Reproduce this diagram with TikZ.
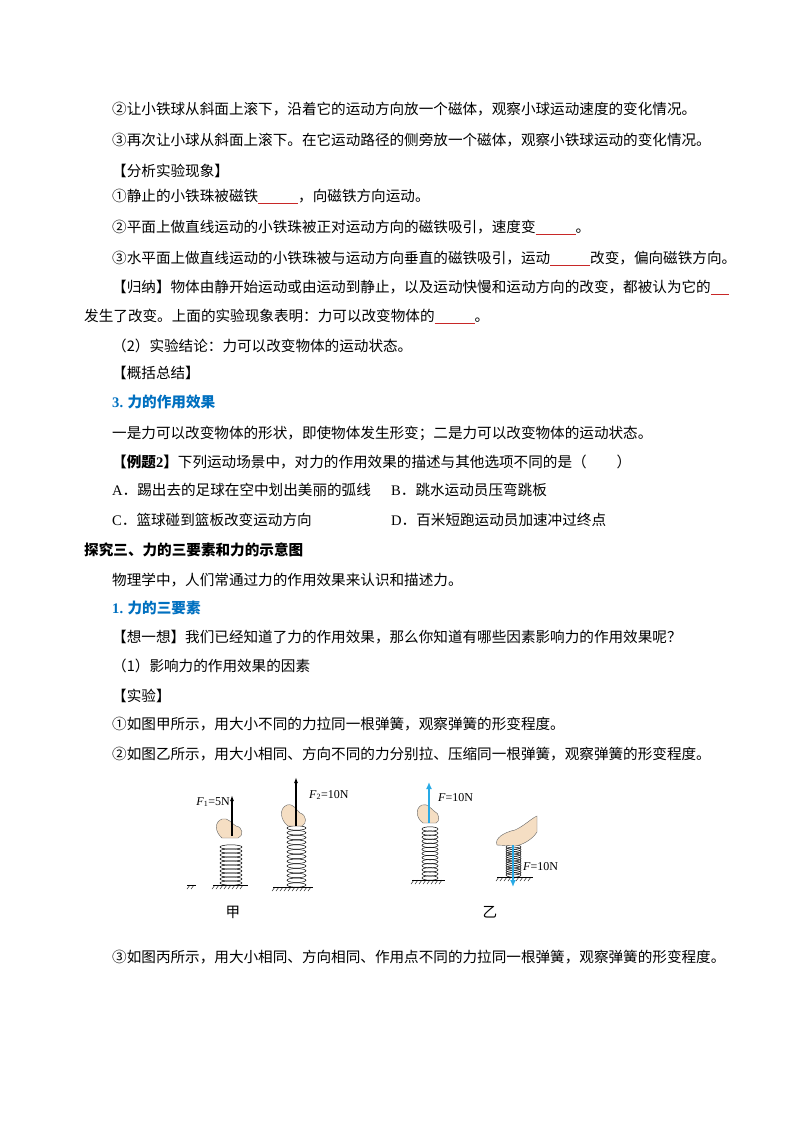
\documentclass[tikz,border=0pt]{standalone}
\usepackage{fontspec}
\setmainfont{Noto Sans CJK SC}
\newfontfamily\lat{Liberation Serif}
\definecolor{hblue}{RGB}{0,112,192}
\definecolor{cyanarr}{RGB}{40,170,230}
\definecolor{skin}{RGB}{245,222,195}
\definecolor{blankred}{RGB}{200,40,40}
\newcommand{\blank}[1]{\textcolor{blankred}{\rule[-2.5pt]{#1pt}{0.7pt}}}
\tikzset{
  txt/.style={anchor=base west,inner sep=0pt,font=\fontsize{14.6}{15}\selectfont},
  head/.style={txt,text=hblue,font=\fontsize{14.6}{15}\selectfont\bfseries},
  lbl/.style={inner sep=0pt,font=\lat\fontsize{12}{12}\selectfont},
  coil/.style={line width=0.5pt},
  arr/.style={-{Latex[length=6pt,width=4pt]},line width=1.3pt},
  barr/.style={-{Latex[length=7pt,width=6pt]},line width=2.2pt,cyanarr},
  hand/.style={fill=skin,draw=black!60,line width=0.4pt}
}
\usetikzlibrary{arrows.meta}
\newcommand{\spring}[5]{% xl xr ytop ybot n
  \foreach \i in {0,...,#5}{
    \pgfmathsetmacro{\yy}{#3+(#4-#3)*\i/#5}
    \draw[coil] ({(#1+#2)/2},\yy) ellipse ({(#2-#1)/2} and 2.2);
  }}
\newcommand{\ground}[3]{% xl xr y
  \draw[line width=0.7pt] (#1,#3) -- (#2,#3);
  \pgfmathsetmacro{\n}{int((#2-#1)/4)}
  \foreach \k in {1,...,\n}{\draw[line width=0.4pt] ({#1+4*\k-2},#3) -- ++(-3,4);}
}
\begin{document}
\begin{tikzpicture}[x=1pt,y=-1pt]
\useasboundingbox[fill=white] (0,0) rectangle (800,1132);
\node[txt] (l1) at (112,114) {②让小铁球从斜面上滚下，沿着它的运动方向放一个磁体，观察小球运动速度的变化情况。};
\node[txt] (l2) at (112,145) {③再次让小球从斜面上滚下。在它运动路径的侧旁放一个磁体，观察小铁球运动的变化情况。};
\node[txt] (l3) at (112,176) {【分析实验现象】};
\node[txt] (l4) at (112,201) {①静止的小铁珠被磁铁\blank{40}，向磁铁方向运动。};
\node[txt] (l5) at (112,232) {②平面上做直线运动的小铁珠被正对运动方向的磁铁吸引，速度变\blank{40}。};
\node[txt] (l6) at (112,263) {③水平面上做直线运动的小铁珠被与运动方向垂直的磁铁吸引，运动\blank{40}改变，偏向磁铁方向。};
\node[txt] (l7) at (112,292) {【归纳】物体由静开始运动或由运动到静止，以及运动快慢和运动方向的改变，都被认为它的\blank{18}};
\node[txt] (l8) at (84,321) {发生了改变。上面的实验现象表明：力可以改变物体的\blank{40}。};
\node[txt] (l9) at (112,351) {（2）实验结论：力可以改变物体的运动状态。};
\node[txt] (l10) at (112,378) {【概括总结】};
\node[head] (h3) at (112,407) {{\lat 3.} 力的作用效果};
\node[txt] (l11) at (112,438) {一是力可以改变物体的形状，即使物体发生形变；二是力可以改变物体的运动状态。};
\node[txt] (l12) at (112,467) {\textbf{【例题{\lat 2}】}下列运动场景中，对力的作用效果的描述与其他选项不同的是（\hspace{30pt}）};
\node[txt] (oa) at (112,495) {{\lat A}．踢出去的足球在空中划出美丽的弧线};
\node[txt] (ob) at (391,495) {{\lat B}．跳水运动员压弯跳板};
\node[txt] (oc) at (112,525) {{\lat C}．篮球碰到篮板改变运动方向};
\node[txt] (od) at (391,525) {{\lat D}．百米短跑运动员加速冲过终点};
\node[txt,font=\fontsize{14.6}{15}\selectfont\bfseries] (s3) at (84,555) {探究三、力的三要素和力的示意图};
\node[txt] (l13) at (112,585) {物理学中，人们常通过力的作用效果来认识和描述力。};
\node[head] (h1) at (112,613) {{\lat 1.} 力的三要素};
\node[txt] (l14) at (112,642) {【想一想】我们已经知道了力的作用效果，那么你知道有哪些因素影响力的作用效果呢？};
\node[txt] (l15) at (112,671) {（1）影响力的作用效果的因素};
\node[txt] (l16) at (112,701) {【实验】};
\node[txt] (l17) at (112,729) {①如图甲所示，用大小不同的力拉同一根弹簧，观察弹簧的形变程度。};
\node[txt] (l18) at (112,759) {②如图乙所示，用大小相同、方向不同的力分别拉、压缩同一根弹簧，观察弹簧的形变程度。};
\node[txt] (l19) at (112,962) {③如图丙所示，用大小相同、方向相同、作用点不同的力拉同一根弹簧，观察弹簧的形变程度。};
% figure jia
\spring{220}{242}{847}{883}{9}
\ground{213}{248}{885}
\draw[line width=0.7pt] (187,885) -- (196,885);
\draw[line width=0.4pt] (190,885) -- ++(-3,4) (194,885) -- ++(-3,4);
\draw[hand] (222,838) .. controls (215,832) and (214,822) .. (222,819) .. controls (228,817) and (232,824) .. (236,826) .. controls (243,827) and (244,836) .. (238,838) -- cycle;
\draw[arr] (232,836) -- (232,795);
\node[lbl,anchor=east] (f1) at (230,802) {\textit{F}\textsubscript{1}=5N};
\spring{287}{306}{828}{885}{12}
\ground{273}{313}{887}
\draw[hand] (288,826) .. controls (280,820) and (279,808) .. (287,805) .. controls (294,803) and (297,811) .. (300,813) .. controls (307,815) and (307,824) .. (302,826) -- cycle;
\draw[arr] (296,826) -- (296,777);
\node[lbl,anchor=west] (f2) at (309,795) {\textit{F}\textsubscript{2}=10N};
\node[txt,anchor=center] (jia) at (233,912) {甲};
% figure yi
\spring{422}{438}{829}{878}{12}
\ground{412}{445}{880}
\draw[hand] (423,823) .. controls (416,818) and (415,808) .. (422,805) .. controls (428,803) and (431,809) .. (434,811) .. controls (440,813) and (440,822) .. (436,823) -- cycle;
\draw[barr] (429,823) -- (429,782);
\node[lbl,anchor=west] (f3) at (438,798) {\textit{F}=10N};
\spring{506}{521}{847}{875}{12}
\ground{497}{533}{877}
\draw[hand] (497,845) .. controls (494,838) and (505,832) .. (515,830) .. controls (524,826) and (532,818) .. (537,816) -- (537,832) .. controls (532,840) and (522,845) .. (515,846) -- cycle;
\draw[barr] (513,845) -- (513,887);
\node[lbl,anchor=west] (f4) at (523,867) {\textit{F}=10N};
\node[txt,anchor=center] (yi) at (490,912) {乙};
\end{tikzpicture}
\end{document}
